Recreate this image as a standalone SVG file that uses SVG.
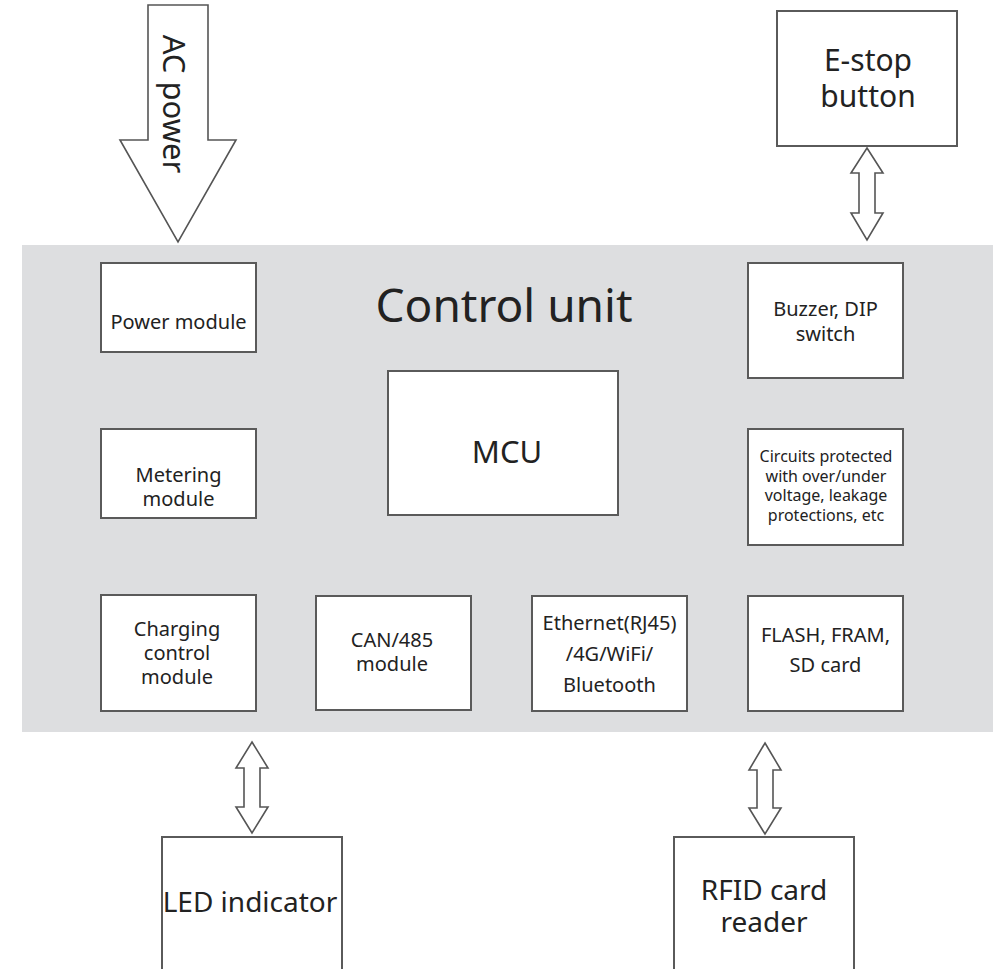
<svg xmlns="http://www.w3.org/2000/svg" width="995" height="969" viewBox="0 0 995 969">
<style>
.box{fill:#ffffff;stroke:#5a5a5a;stroke-width:2}
.arr{fill:#ffffff;stroke:#555555;stroke-width:1.6;stroke-linejoin:miter}
text{font-family:"Noto Sans","Noto Sans CJK SC",sans-serif;fill:#222222;text-anchor:middle}
.t20{font-size:20px}
.t16{font-size:16px}
.t28{font-size:28px}
</style>
<rect width="995" height="969" fill="#ffffff"/>
<g id="control-unit">
<rect x="22" y="245" width="971" height="487" fill="#dddee0"/>
<text x="504" y="322" style="font-size:46px">Control unit</text>
</g>
<g id="connectors">
<path class="arr" d="M148,5 L208,5 L208,140 L236,140 L178,242 L120,140 L148,140 Z"/>
<path class="arr" d="M867,148 L883,173 L875,173 L875,213 L883,213 L867,240 L851,213 L859,213 L859,173 L851,173 Z"/>
<path class="arr" d="M252,742 L268,768 L260,768 L260,807 L268,807 L252,833 L236,807 L244,807 L244,768 L236,768 Z"/>
<path class="arr" d="M765,743 L781,770 L773,770 L773,808 L781,808 L765,834 L749,808 L757,808 L757,770 L749,770 Z"/>
</g>
<g id="ac-power">
<text transform="translate(163,104) rotate(90)" style="font-size:31px">AC power</text>
</g>
<g id="e-stop">
<rect class="box" x="777" y="11" width="180" height="135"/>
<text x="868" y="71" style="font-size:30px">E-stop<tspan x="868" dy="36">button</tspan></text>
</g>
<g id="power-module">
<rect class="box" x="101" y="263" width="155" height="89"/>
<text class="t20" x="178.5" y="329">Power module</text>
</g>
<g id="metering-module">
<rect class="box" x="101" y="429" width="155" height="89"/>
<text class="t20" x="178.5" y="482">Metering<tspan x="178.5" dy="24">module</tspan></text>
</g>
<g id="charging-control-module">
<rect class="box" x="101" y="595" width="155" height="116"/>
<text class="t20" x="177" y="636">Charging<tspan x="177" dy="24">control</tspan><tspan x="177" dy="24">module</tspan></text>
</g>
<g id="can-485">
<rect class="box" x="316" y="596" width="155" height="114"/>
<text class="t20" x="392" y="647">CAN/485<tspan x="392" dy="24">module</tspan></text>
</g>
<g id="ethernet">
<rect class="box" x="532" y="596" width="155" height="115"/>
<text class="t20" x="609.5" y="630">Ethernet(RJ45)<tspan x="609.5" dy="31">/4G/WiFi/</tspan><tspan x="609.5" dy="31">Bluetooth</tspan></text>
</g>
<g id="storage">
<rect class="box" x="748" y="596" width="155" height="115"/>
<text class="t20" x="825.5" y="642">FLASH, FRAM,<tspan x="825.5" dy="30">SD card</tspan></text>
</g>
<g id="protection-circuits">
<rect class="box" x="748" y="429" width="155" height="116"/>
<text class="t16" x="826" y="462">Circuits protected<tspan x="826" dy="19.5">with over/under</tspan><tspan x="826" dy="19.5">voltage, leakage</tspan><tspan x="826" dy="19.5">protections, etc</tspan></text>
</g>
<g id="buzzer-dip">
<rect class="box" x="748" y="263" width="155" height="115"/>
<text class="t20" x="825.5" y="316">Buzzer, DIP<tspan x="825.5" dy="25">switch</tspan></text>
</g>
<g id="mcu">
<rect class="box" x="388" y="371" width="230" height="144"/>
<text x="507" y="463" style="font-size:31px">MCU</text>
</g>
<g id="led-indicator">
<rect class="box" x="162" y="837" width="180" height="140"/>
<text class="t28" x="250" y="912">LED indicator</text>
</g>
<g id="rfid-reader">
<rect class="box" x="674" y="837" width="180" height="140"/>
<text class="t28" x="764" y="900">RFID card<tspan x="764" dy="32">reader</tspan></text>
</g>
</svg>
